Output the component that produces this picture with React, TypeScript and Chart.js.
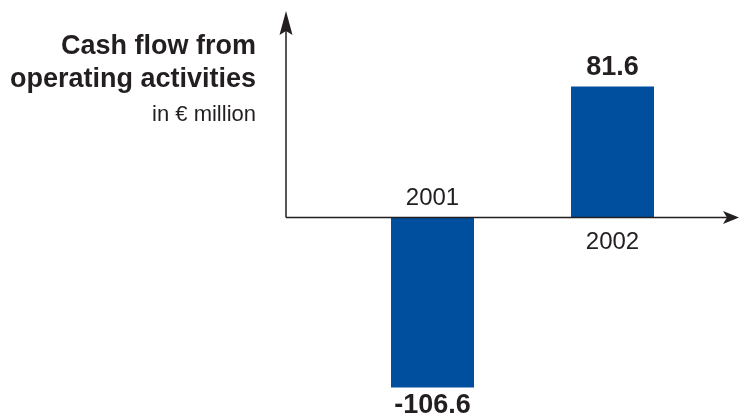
import React, { useEffect, useRef } from "react";
import { Chart, registerables } from "chart.js";

Chart.register(...registerables);

const categories = ["2001", "2002"];
const values = [-106.6, 81.6];
const valueLabels = ["-106.6", "81.6"];
const titleLines = ["Cash flow from", "operating activities"];
const unitLabel = "in \u20AC million";

const BAR_COLOR = "#004f9f";
const INK = "#231f20";
const FONT = "'Liberation Sans', Arial, Helvetica, sans-serif";

const decorPlugin = {
  id: "decor",
  afterDatasetsDraw(chart: any) {
    const ctx = chart.ctx as CanvasRenderingContext2D;
    const xs = chart.scales.x;
    const ys = chart.scales.y;
    const zeroY = Math.round(ys.getPixelForValue(0)) + 0.5;
    const axisX = 286;
    ctx.save();
    // axes
    ctx.strokeStyle = INK;
    ctx.fillStyle = INK;
    ctx.lineWidth = 1.5;
    ctx.beginPath();
    ctx.moveTo(axisX, zeroY);
    ctx.lineTo(axisX, 30);
    ctx.moveTo(axisX, zeroY);
    ctx.lineTo(728, zeroY);
    ctx.stroke();
    // up arrow
    ctx.beginPath();
    ctx.moveTo(axisX, 11);
    ctx.lineTo(axisX - 6.5, 35);
    ctx.lineTo(axisX, 31);
    ctx.lineTo(axisX + 6.5, 35);
    ctx.closePath();
    ctx.fill();
    // right arrow
    ctx.beginPath();
    ctx.moveTo(739, zeroY);
    ctx.lineTo(723, zeroY - 6.5);
    ctx.lineTo(727, zeroY);
    ctx.lineTo(723, zeroY + 6.5);
    ctx.closePath();
    ctx.fill();

    // category labels and value labels
    const meta = chart.getDatasetMeta(0);
    ctx.textAlign = "center";
    categories.forEach((c, i) => {
      const x = xs.getPixelForValue(i);
      const v = values[i];
      const bar = meta.data[i];
      ctx.fillStyle = INK;
      ctx.font = `24px ${FONT}`;
      ctx.textBaseline = "alphabetic";
      if (v < 0) {
        ctx.fillText(c, x, zeroY - 13);
      } else {
        ctx.fillText(c, x, zeroY + 31);
      }
      ctx.font = `bold 27px ${FONT}`;
      if (v < 0) {
        ctx.fillText(valueLabels[i], x, bar.y + 25);
      } else {
        ctx.fillText(valueLabels[i], x, bar.y - 11);
      }
    });

    // title
    ctx.textAlign = "right";
    ctx.fillStyle = INK;
    ctx.font = `bold 27px ${FONT}`;
    ctx.fillText(titleLines[0], 256, 54);
    ctx.fillText(titleLines[1], 256, 87);
    ctx.font = `22px ${FONT}`;
    ctx.fillText(unitLabel, 256, 121);
    ctx.restore();
  },
};

export default function App() {
  const ref = useRef<HTMLCanvasElement | null>(null);
  useEffect(() => {
    document.body.style.margin = "0";
    const chart = new Chart(ref.current as HTMLCanvasElement, {
      type: "bar",
      data: {
        labels: categories,
        datasets: [
          {
            data: values,
            backgroundColor: BAR_COLOR,
            borderWidth: 0,
            categoryPercentage: 1,
            barPercentage: 83 / 180,
          },
        ],
      },
      options: {
        responsive: false,
        animation: false,
        layout: { padding: { left: 342.5, right: 36.5, top: 57, bottom: 11 } },
        plugins: {
          legend: { display: false },
          tooltip: { enabled: false },
          title: { display: false },
        },
        scales: {
          x: { display: false, offset: true },
          y: { display: false, min: -120, max: 100 },
        },
      },
      plugins: [decorPlugin],
    });
    return () => chart.destroy();
  }, []);
  return <canvas ref={ref} width={739} height={420} style={{ display: "block" }} />;
}
